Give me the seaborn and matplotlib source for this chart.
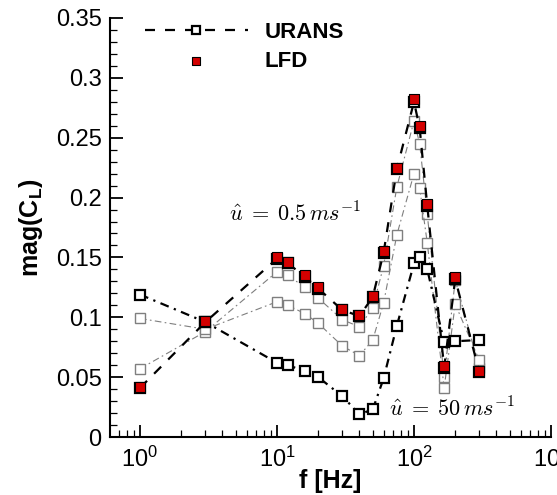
import numpy as np
import pandas as pd
import matplotlib
matplotlib.use("Agg")
import matplotlib.pyplot as plt
import matplotlib.ticker as mticker
import seaborn as sns

# ---- data ----
freq = [1, 3, 10, 12, 16, 20, 30, 40, 50, 60, 75, 100, 110, 125, 166, 200, 300]
urans_low = [0.041, 0.096, 0.149, 0.145, 0.134, 0.124, 0.106, 0.101, 0.117, 0.154,
             0.224, 0.280, 0.258, 0.193, 0.058, 0.132, 0.054]
lfd_low = [0.042, 0.097, 0.150, 0.146, 0.135, 0.125, 0.107, 0.102, 0.118, 0.155,
           0.225, 0.282, 0.260, 0.195, 0.059, 0.134, 0.055]
gray_mid1 = [0.057, 0.088, 0.138, 0.135, 0.125, 0.116, 0.098, 0.092, 0.108, 0.143,
             0.209, 0.264, 0.245, 0.186, 0.050, 0.131, 0.058]
gray_mid2 = [0.099, 0.090, 0.113, 0.110, 0.103, 0.095, 0.076, 0.068, 0.081, 0.112,
             0.169, 0.220, 0.208, 0.162, 0.041, 0.111, 0.064]
urans_high = [0.119, 0.096, 0.062, 0.060, 0.055, 0.050, 0.034, 0.019, 0.023, 0.049,
              0.093, 0.145, 0.150, 0.140, 0.079, 0.080, 0.081]

sns.set_style("ticks")
plt.rcParams["font.family"] = ["Liberation Sans", "DejaVu Sans"]
plt.rcParams["mathtext.fontset"] = "custom"
plt.rcParams["mathtext.rm"] = "Liberation Sans"
plt.rcParams["mathtext.it"] = "Liberation Sans:italic"
plt.rcParams["mathtext.bf"] = "Liberation Sans:bold"
plt.rcParams["text.color"] = "black"
plt.rcParams["axes.labelcolor"] = "black"
plt.rcParams["xtick.color"] = "black"
plt.rcParams["ytick.color"] = "black"
plt.rcParams["axes.edgecolor"] = "black"

fig = plt.figure(figsize=(5.57, 4.95), dpi=100)
ax = fig.add_axes([110 / 557, 1 - 437 / 495, 441 / 557, 419 / 495])

df = pd.DataFrame({"f": freq, "urans_low": urans_low, "lfd_low": lfd_low,
                   "g1": gray_mid1, "g2": gray_mid2, "urans_high": urans_high})

gray = "#7f7f7f"
for col in ["g1", "g2"]:
    sns.lineplot(data=df, x="f", y=col, ax=ax, sort=False, color=gray,
                 linestyle=(0, (6, 3, 1.5, 3)), linewidth=0.8,
                 marker="s", markersize=7, markerfacecolor="white",
                 markeredgecolor=gray, markeredgewidth=1.0, legend=False)

sns.lineplot(data=df, x="f", y="urans_high", ax=ax, sort=False, color="black",
             linestyle=(0, (4, 2.5, 1, 2.5)), linewidth=1.6,
             marker="s", markersize=7.5, markerfacecolor="white",
             markeredgecolor="black", markeredgewidth=1.6, legend=False)

sns.lineplot(data=df, x="f", y="urans_low", ax=ax, sort=False, color="black",
             linestyle=(0, (4.5, 4.5)), linewidth=1.6,
             marker="s", markersize=7.5, markerfacecolor="white",
             markeredgecolor="black", markeredgewidth=1.6, label="URANS")

sns.scatterplot(data=df, x="f", y="lfd_low", ax=ax, marker="s", s=52,
                color="#d40000", edgecolor="black", linewidth=0.8,
                label="LFD", zorder=5)

ax.set_xscale("log")
ax.set_xlim(0.604, 1000)
ax.set_ylim(0, 0.35)
ax.yaxis.set_major_locator(mticker.MultipleLocator(0.05))
ax.yaxis.set_minor_locator(mticker.MultipleLocator(0.01))
ax.yaxis.set_major_formatter(mticker.FuncFormatter(lambda v, p: f"{v:g}"))
ax.xaxis.set_major_locator(mticker.LogLocator(base=10, numticks=10))
ax.xaxis.set_minor_locator(mticker.LogLocator(base=10, subs=np.arange(2, 10), numticks=20))
ax.xaxis.set_minor_formatter(mticker.NullFormatter())

ax.tick_params(which="major", direction="in", length=9, width=1.3, labelsize=17, pad=6)
ax.tick_params(axis="x", which="major", pad=7)
ax.tick_params(which="minor", direction="in", length=5, width=0.9)
for s in ["top", "right"]:
    ax.spines[s].set_visible(False)
for s in ["left", "bottom"]:
    ax.spines[s].set_linewidth(1.5)

ax.set_xlabel("f [Hz]", fontsize=18, fontweight="bold", labelpad=-2)
ax.set_ylabel(r"mag(C$_\mathbf{L}$)", fontsize=18, fontweight="bold", labelpad=8)

ax.text(13.5, 0.1855, r"$\hat{u}\;=\;0.5\,ms^{-1}$", fontsize=16,
        math_fontfamily="cm", ha="center", va="center")
ax.text(189, 0.0226, r"$\hat{u}\;=\;50\,ms^{-1}$", fontsize=16,
        math_fontfamily="cm", ha="center", va="center")

leg = ax.legend(loc="upper left", bbox_to_anchor=(0.08, 0.99), frameon=False,
                handlelength=4.6, handletextpad=0.75, labelspacing=0.35,
                borderpad=0, borderaxespad=0, markerscale=0.75,
                prop={"weight": "bold", "size": 16})

fig.savefig("out.png", dpi=100)
